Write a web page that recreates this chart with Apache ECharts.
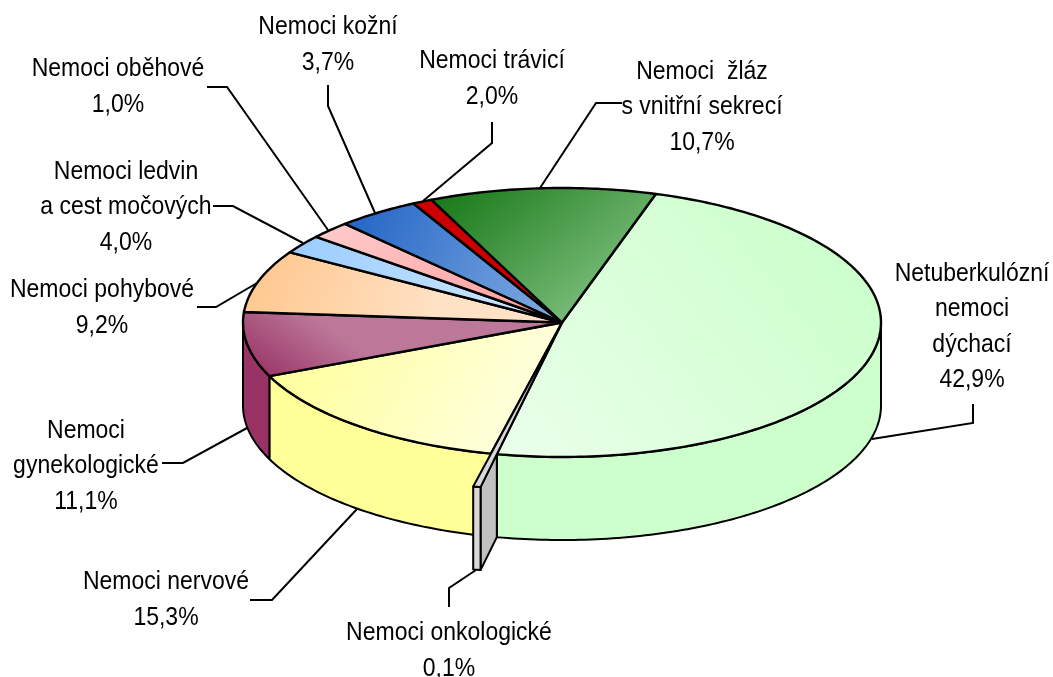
<!DOCTYPE html>
<html>
<head>
<meta charset="utf-8">
<title>Nemoci</title>
<script src="https://cdn.jsdelivr.net/npm/echarts@6/dist/echarts.min.js"></script>
<style>
  html, body { margin: 0; padding: 0; background: #fff; }
  #chart { width: 1053px; height: 677px; }
</style>
</head>
<body>
<div id="chart"></div>
<script>
// printed labels, clockwise from the big green slice
const categories = [
  'Netuberkulózní\nnemoci\ndýchací', 'Nemoci onkologické', 'Nemoci nervové',
  'Nemoci\ngynekologické', 'Nemoci pohybové', 'Nemoci ledvin\na cest močových',
  'Nemoci oběhové', 'Nemoci kožní', 'Nemoci trávicí', 'Nemoci  žláz\ns vnitřní sekrecí',
]
const printedPercent = ['42,9%', '0,1%', '15,3%', '11,1%', '9,2%', '4,0%', '1,0%', '3,7%', '2,0%', '10,7%']
// wedge shares as they are drawn in the picture, they differ from the printed percentages
const drawnShare = [48.5, 0.3, 14.9, 7.75, 7.5, 2.25, 2.1, 4.2, 1.0, 11.45]
const pulledOut = [0, 1, 0, 0, 0, 0, 0, 0, 0, 0]

const CX = 562, CY = 322.5, RX = 319, RY = 134.5, DEPTH = 83
const START_ANGLE = 17.1, PULL_RADIUS = 1.25
const TEXT_STRETCH = 1.12

function fade(x, y, x2, y2, from, to) {
  return { type: 'linear', x, y, x2, y2, colorStops: [{ offset: 0, color: from }, { offset: 1, color: to }] }
}

const sliceStyles = [
  { wall: '#ccffcc', top: fade(0.85, 0.1, 0.1, 1, '#ccffcc', '#e8ffe8') },
  { wall: '#c0c0c0', outer: '#d8d8d8', top: '#d8d8d8' },
  { wall: '#ffff99', top: fade(0.05, 0.1, 0.85, 0.95, '#ffff99', '#ffffe0') },
  { wall: '#993366', top: fade(0.05, 1, 0.2, 0, '#993366', '#bc7899') },
  { wall: '#ffcc99', top: fade(0.1, 0, 0.6, 1, '#ffc992', '#ffe2c6') },
  { wall: '#99ccff', top: fade(0, 0, 1, 1, '#99ccff', '#d4e9ff') },
  { wall: '#ffcccc', top: fade(0, 0, 1, 1, '#ffcccc', '#ff9a9a') },
  { wall: '#1f66c8', top: fade(0, 0, 1, 1, '#1f62c4', '#84aee3') },
  { wall: '#cc0000', top: '#cc0000' },
  { wall: '#1a7a1a', top: fade(0.1, 0, 0.6, 1, '#1a7a1a', '#78bb78') },
]

// label block centre and leader line of each slice
const labelCentres = [
  [972, 327], [449, 651], [166, 600], [86, 466], [102, 308],
  [126, 207], [118, 87], [328, 45], [492, 79], [702, 107],
]
const leaderLines = [
  [[973, 404], [973, 423], [872, 439]],
  [[449, 607], [449, 588], [476, 570]],
  [[250, 600], [272, 600], [357, 509]],
  [[162, 463], [183, 463], [247, 428]],
  [[197, 307], [216, 307], [257, 283]],
  [[213, 206], [233, 206], [303, 243]],
  [[207, 87], [227, 87], [328, 230]],
  [[328, 85], [328, 106], [375, 213]],
  [[492, 122], [492, 143], [423, 201]],
  [[622, 103], [596, 103], [540, 188]],
]

const shareTotal = drawnShare.reduce((a, b) => a + b, 0)
const sliceAngles = []
let running = START_ANGLE
drawnShare.forEach((v) => {
  const sweep = v / shareTotal * 360
  sliceAngles.push([running, running + sweep])
  running += sweep
})

function rimPoint(deg, r, drop) {
  const t = deg * Math.PI / 180
  return [CX + RX * r * Math.sin(t), CY - RY * r * Math.cos(t) + drop]
}

function arc(a, b, r, drop) {
  const pts = []
  const n = Math.max(2, Math.ceil(Math.abs(b - a)))
  for (let i = 0; i <= n; i++) pts.push(rimPoint(a + (b - a) * i / n, r, drop))
  return pts
}

function face(points, fill, z2, lineWidth) {
  return {
    type: 'polygon', z2,
    shape: { points },
    style: { fill, stroke: '#000', lineWidth: lineWidth || 2, lineJoin: 'round' },
  }
}

function renderSlice(params) {
  const i = params.dataIndex
  const [a, b] = sliceAngles[i]
  const style = sliceStyles[i]
  const children = []

  if (pulledOut[i]) {
    // thin wedge sticking out of the cake, drawn over its neighbours
    const r = PULL_RADIUS
    children.push(face(arc(a, a, 1, 0).concat(arc(a, a, r, 0), arc(a, a, r, DEPTH), arc(a, a, 1, DEPTH)), style.wall, 5, 2))
    children.push(face(arc(a, b, r, 0).concat(arc(b, a, r, DEPTH)), style.outer, 5, 2))
    children.push(face([[CX, CY]].concat(arc(a, b, r, 0)), style.top, 6, 2))
    return { type: 'group', children }
  }

  const from = Math.max(a, 90)
  const to = Math.min(b, 270)
  if (from < to) {
    children.push(face(arc(from, to, 1, 0).concat(arc(to, from, 1, DEPTH)), style.wall, 1))
  }
  children.push(face([[CX, CY]].concat(arc(a, b, 1, 0)), style.top, 2, 2.4))
  return { type: 'group', children }
}

const labelElements = categories.map((name, i) => ({
  type: 'text',
  x: labelCentres[i][0],
  y: labelCentres[i][1],
  scaleY: TEXT_STRETCH,
  z: 10,
  style: {
    text: name + '\n' + printedPercent[i],
    font: '23px "Liberation Sans", Arial, sans-serif',
    fill: '#000',
    align: 'center',
    verticalAlign: 'middle',
    lineHeight: 35.5 / TEXT_STRETCH,
  },
}))

const leaderElements = leaderLines.map((points) => ({
  type: 'polyline',
  z: 0,
  shape: { points },
  style: { fill: 'none', stroke: '#000', lineWidth: 2 },
}))

const chart = echarts.init(document.getElementById('chart'), null, { renderer: 'canvas' })
chart.setOption({
  animation: false,
  backgroundColor: '#fff',
  graphic: { elements: leaderElements.concat(labelElements) },
  series: [{
    type: 'custom',
    coordinateSystem: 'none',
    silent: true,
    data: drawnShare,
    renderItem: renderSlice,
  }],
})
</script>
</body>
</html>
